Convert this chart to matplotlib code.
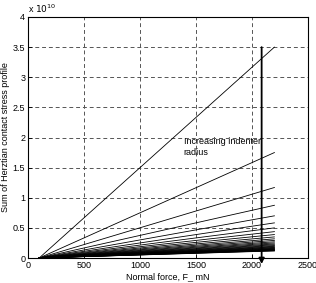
import matplotlib
matplotlib.use("Agg")
import matplotlib.pyplot as plt

plt.rcParams['font.family'] = ['Liberation Sans', 'DejaVu Sans']

# force range of each curve (mN)
force_start = 100
force_end = 2200
# stress sum at the end of each curve, units of 1e10
end_values = [3.50, 1.75, 1.17, 0.875, 0.70, 0.583, 0.50, 0.4375, 0.389, 0.35,
              0.318, 0.292, 0.269, 0.25, 0.233, 0.219, 0.206, 0.194, 0.184, 0.175,
              0.167, 0.159, 0.152, 0.146, 0.14, 0.135, 0.13, 0.125, 0.121, 0.117]

fig = plt.figure(figsize=(3.16, 2.83), dpi=100)
ax = fig.add_axes([28/316, 25/283, 280/316, 241/283])

for v in end_values:
    ax.plot([force_start, force_end], [0, v * 1e10], color='black', lw=0.6)

ax.set_xlim(0, 2500)
ax.set_ylim(0, 4e10)
ax.set_xticks([0, 500, 1000, 1500, 2000, 2500])
ax.set_yticks([i * 0.5e10 for i in range(9)])
ax.set_yticklabels(['0', '0.5', '1', '1.5', '2', '2.5', '3', '3.5', '4'])
ax.tick_params(direction='in', labelsize=6.5, length=3, width=0.6, pad=2)
ax.grid(True, linestyle=(0, (4, 3)), color='#555555', lw=0.7)
for s in ax.spines.values():
    s.set_linewidth(0.8)

ax.text(0, 1.01, r'x $10^{10}$', transform=ax.transAxes, fontsize=6.5, ha='left', va='bottom')

ax.set_xlabel('Normal force, F_ mN', fontsize=6.5, labelpad=2)
ax.set_ylabel('Sum of Herztian contact stress profile', fontsize=6.5, labelpad=2)

ax.annotate('', xy=(2086, -0.1e10), xytext=(2086, 3.5e10),
            arrowprops=dict(arrowstyle='-|>', color='black', lw=1.3,
                            mutation_scale=8, shrinkA=0, shrinkB=0),
            annotation_clip=False)
ax.text(1390, 2.0e10, 'Increasing indenter\nradius', fontsize=6.5, va='top', ha='left',
        linespacing=1.2)

fig.savefig('out.png', dpi=100)
